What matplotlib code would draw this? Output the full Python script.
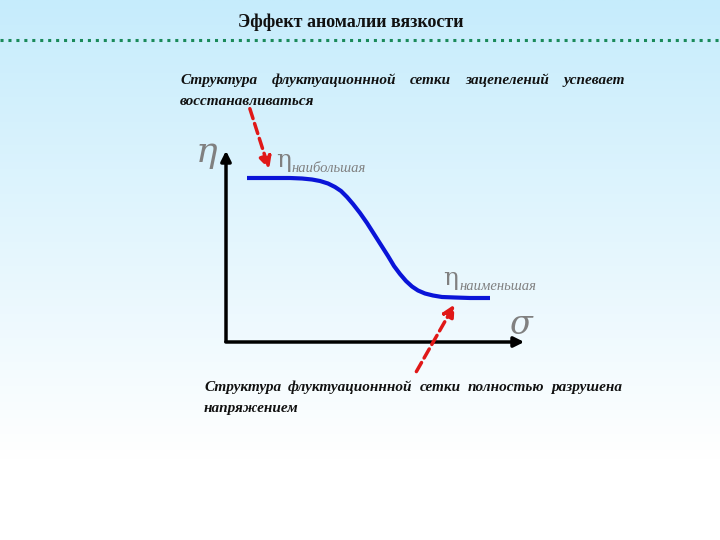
import numpy as np
import matplotlib.pyplot as plt

title = "Эффект аномалии вязкости"
top_lines = ["Структура флуктуационнной сетки зацепелений успевает", "восстанавливаться"]
bottom_lines = ["Структура флуктуационнной сетки полностью разрушена", "напряжением"]
eta_max_label = "наибольшая"
eta_min_label = "наименьшая"

# viscosity curve (pixel units of the slide)
sigma = [247, 270, 290, 302, 312, 320, 328, 335, 341, 347, 353, 360, 367, 374,
         381, 388, 394, 400, 406, 412, 418, 425, 433, 442, 455, 470, 490]
eta = [178, 178, 178, 178.5, 179.5, 181, 183.5, 187, 191, 197, 204, 213, 223, 234,
       245, 256, 266, 274, 281, 286.5, 290.5, 293.5, 295.5, 297, 297.5, 298, 298]

fig = plt.figure(figsize=(7.2, 5.4), dpi=100)
ax = fig.add_axes([0, 0, 1, 1])
ax.set_xlim(0, 720)
ax.set_ylim(540, 0)
ax.axis("off")

# background gradient
grad = np.linspace(0, 1, 256).reshape(-1, 1)
top = np.array([198, 236, 252]) / 255
bot = np.array([255, 255, 255]) / 255
t = np.clip(grad / 0.85, 0, 1)
img = top * (1 - t)[..., None] + bot * t[..., None]
img = np.repeat(img, 2, axis=1)
ax.imshow(img, extent=[0, 720, 540, 0], aspect="auto", zorder=0)

ax.text(351, 22, title, ha="center", va="center", fontsize=13,
        fontweight="bold", family="Liberation Serif", color="#111111")
ax.plot([0, 720], [40, 40], color="#1a8a5a", lw=2.2, ls=(0, (1, 1.6)), zorder=2)

fig.canvas.draw()
renderer = fig.canvas.get_renderer()


def justified(line, x0, x1, y, justify=True):
    words = line.split()
    kw = dict(fontsize=11, fontweight="bold", fontstyle="italic",
              family="Liberation Serif", va="baseline", ha="left", color="#111111")
    if not justify:
        ax.text(x0, y, line, **kw)
        return
    objs = [ax.text(0, y, w, **kw) for w in words]
    inv = ax.transData.inverted()
    widths = []
    for o in objs:
        bb = o.get_window_extent(renderer)
        p0 = inv.transform((bb.x0, bb.y0))
        p1 = inv.transform((bb.x1, bb.y0))
        widths.append(p1[0] - p0[0])
    gap = (x1 - x0 - sum(widths)) / (len(words) - 1)
    x = x0
    for o, w in zip(objs, widths):
        o.set_x(x)
        x += w + gap


justified(top_lines[0], 180, 625, 84)
justified(top_lines[1], 180, 625, 105, justify=False)
justified(bottom_lines[0], 204, 622, 391)
justified(bottom_lines[1], 204, 622, 412, justify=False)

# axes
ax.annotate("", xy=(226, 148), xytext=(226, 344),
            arrowprops=dict(arrowstyle="-|>,head_length=0.6,head_width=0.3", color="black", lw=2.5))
ax.annotate("", xy=(527, 342), xytext=(223, 342),
            arrowprops=dict(arrowstyle="-|>,head_length=0.6,head_width=0.3", color="black", lw=2.5))

ax.plot(sigma, eta, color="#0a14d8", lw=3, solid_capstyle="butt",
        solid_joinstyle="round", zorder=3)

grey = "#808080"
ax.text(207, 152, "η", fontsize=26, fontstyle="italic", family="DejaVu Serif",
        color=grey, ha="center", va="center")
ax.text(520, 325, "σ", fontsize=24, fontstyle="italic", family="DejaVu Serif",
        color=grey, ha="center", va="center")
ax.text(284, 160, "η", fontsize=18, family="DejaVu Serif", color=grey, ha="center", va="center")
ax.text(292, 168, eta_max_label, fontsize=10.5, fontstyle="italic", family="Liberation Serif",
        color=grey, ha="left", va="center")
ax.text(451, 279, "η", fontsize=18, family="DejaVu Serif", color=grey, ha="center", va="center")
ax.text(459, 286, eta_min_label, fontsize=10.5, fontstyle="italic", family="Liberation Serif",
        color=grey, ha="left", va="center")

# red dashed arrows
ap = dict(arrowstyle="-|>,head_length=0.7,head_width=0.35", color="#e01818",
          lw=2.5, ls=(0, (3, 1.5)))
ax.annotate("", xy=(270, 172), xytext=(249, 106), arrowprops=ap)
ax.annotate("", xy=(456, 302), xytext=(415, 374), arrowprops=ap)

fig.savefig("out.png", dpi=100)
